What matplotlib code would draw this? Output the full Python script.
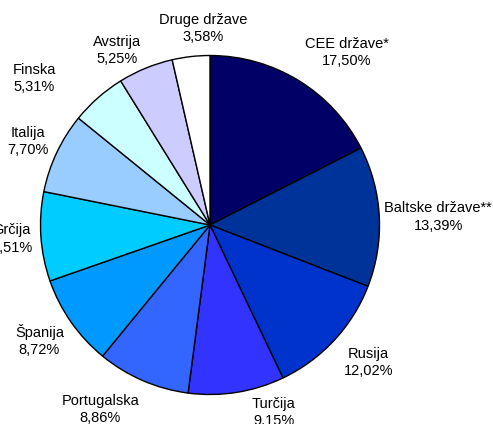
import matplotlib
matplotlib.use("Agg")
from matplotlib import pyplot as plt

plt.rcParams['font.family'] = ['Liberation Sans', 'DejaVu Sans']

# podatki
drzave = ['CEE države*', 'Baltske države**', 'Rusija', 'Turčija', 'Portugalska',
          'Španija', 'Grčija', 'Italija', 'Finska', 'Avstrija', 'Druge države']
delezi = [17.50, 13.39, 12.02, 9.15, 8.86, 8.72, 8.51, 7.70, 5.31, 5.25, 3.58]
barve = ['#000066', '#003399', '#0033CC', '#3333FF', '#3366FF', '#0099FF',
         '#00CCFF', '#99CCFF', '#CCFFFF', '#CCCCFF', '#FFFFFF']

# položaji oznak (v enotah polmera, glede na središče)
oznake_xy = [(0.806, 1.018), (1.347, 0.047), (0.935, -0.812), (0.376, -1.106),
             (-0.647, -1.088), (-1.006, -0.682), (-1.171, -0.082), (-1.076, 0.494),
             (-1.035, 0.865), (-0.547, 1.029), (-0.041, 1.159)]

W, H = 493, 424
fig = plt.figure(figsize=(W / 100, H / 100), dpi=100)
cx, cy, r = 210, 225, 170
ax = fig.add_axes([(cx - r) / W, (H - cy - r) / H, 2 * r / W, 2 * r / H])

ax.pie(delezi, colors=barve, startangle=90, counterclock=False, radius=1,
       wedgeprops=dict(edgecolor='black', linewidth=1.0))
ax.set_xlim(-1.003, 1.003)
ax.set_ylim(-1.003, 1.003)
ax.set_aspect('auto')
ax.axis('off')

for ime, d, (x, y) in zip(drzave, delezi, oznake_xy):
    besedilo = ime + '\n' + ('%.2f' % d).replace('.', ',') + '%'
    ax.text(x, y, besedilo, ha='center', va='center', fontsize=10.5,
            linespacing=1.3, color='black', clip_on=False)

fig.savefig('out.png', dpi=100)
